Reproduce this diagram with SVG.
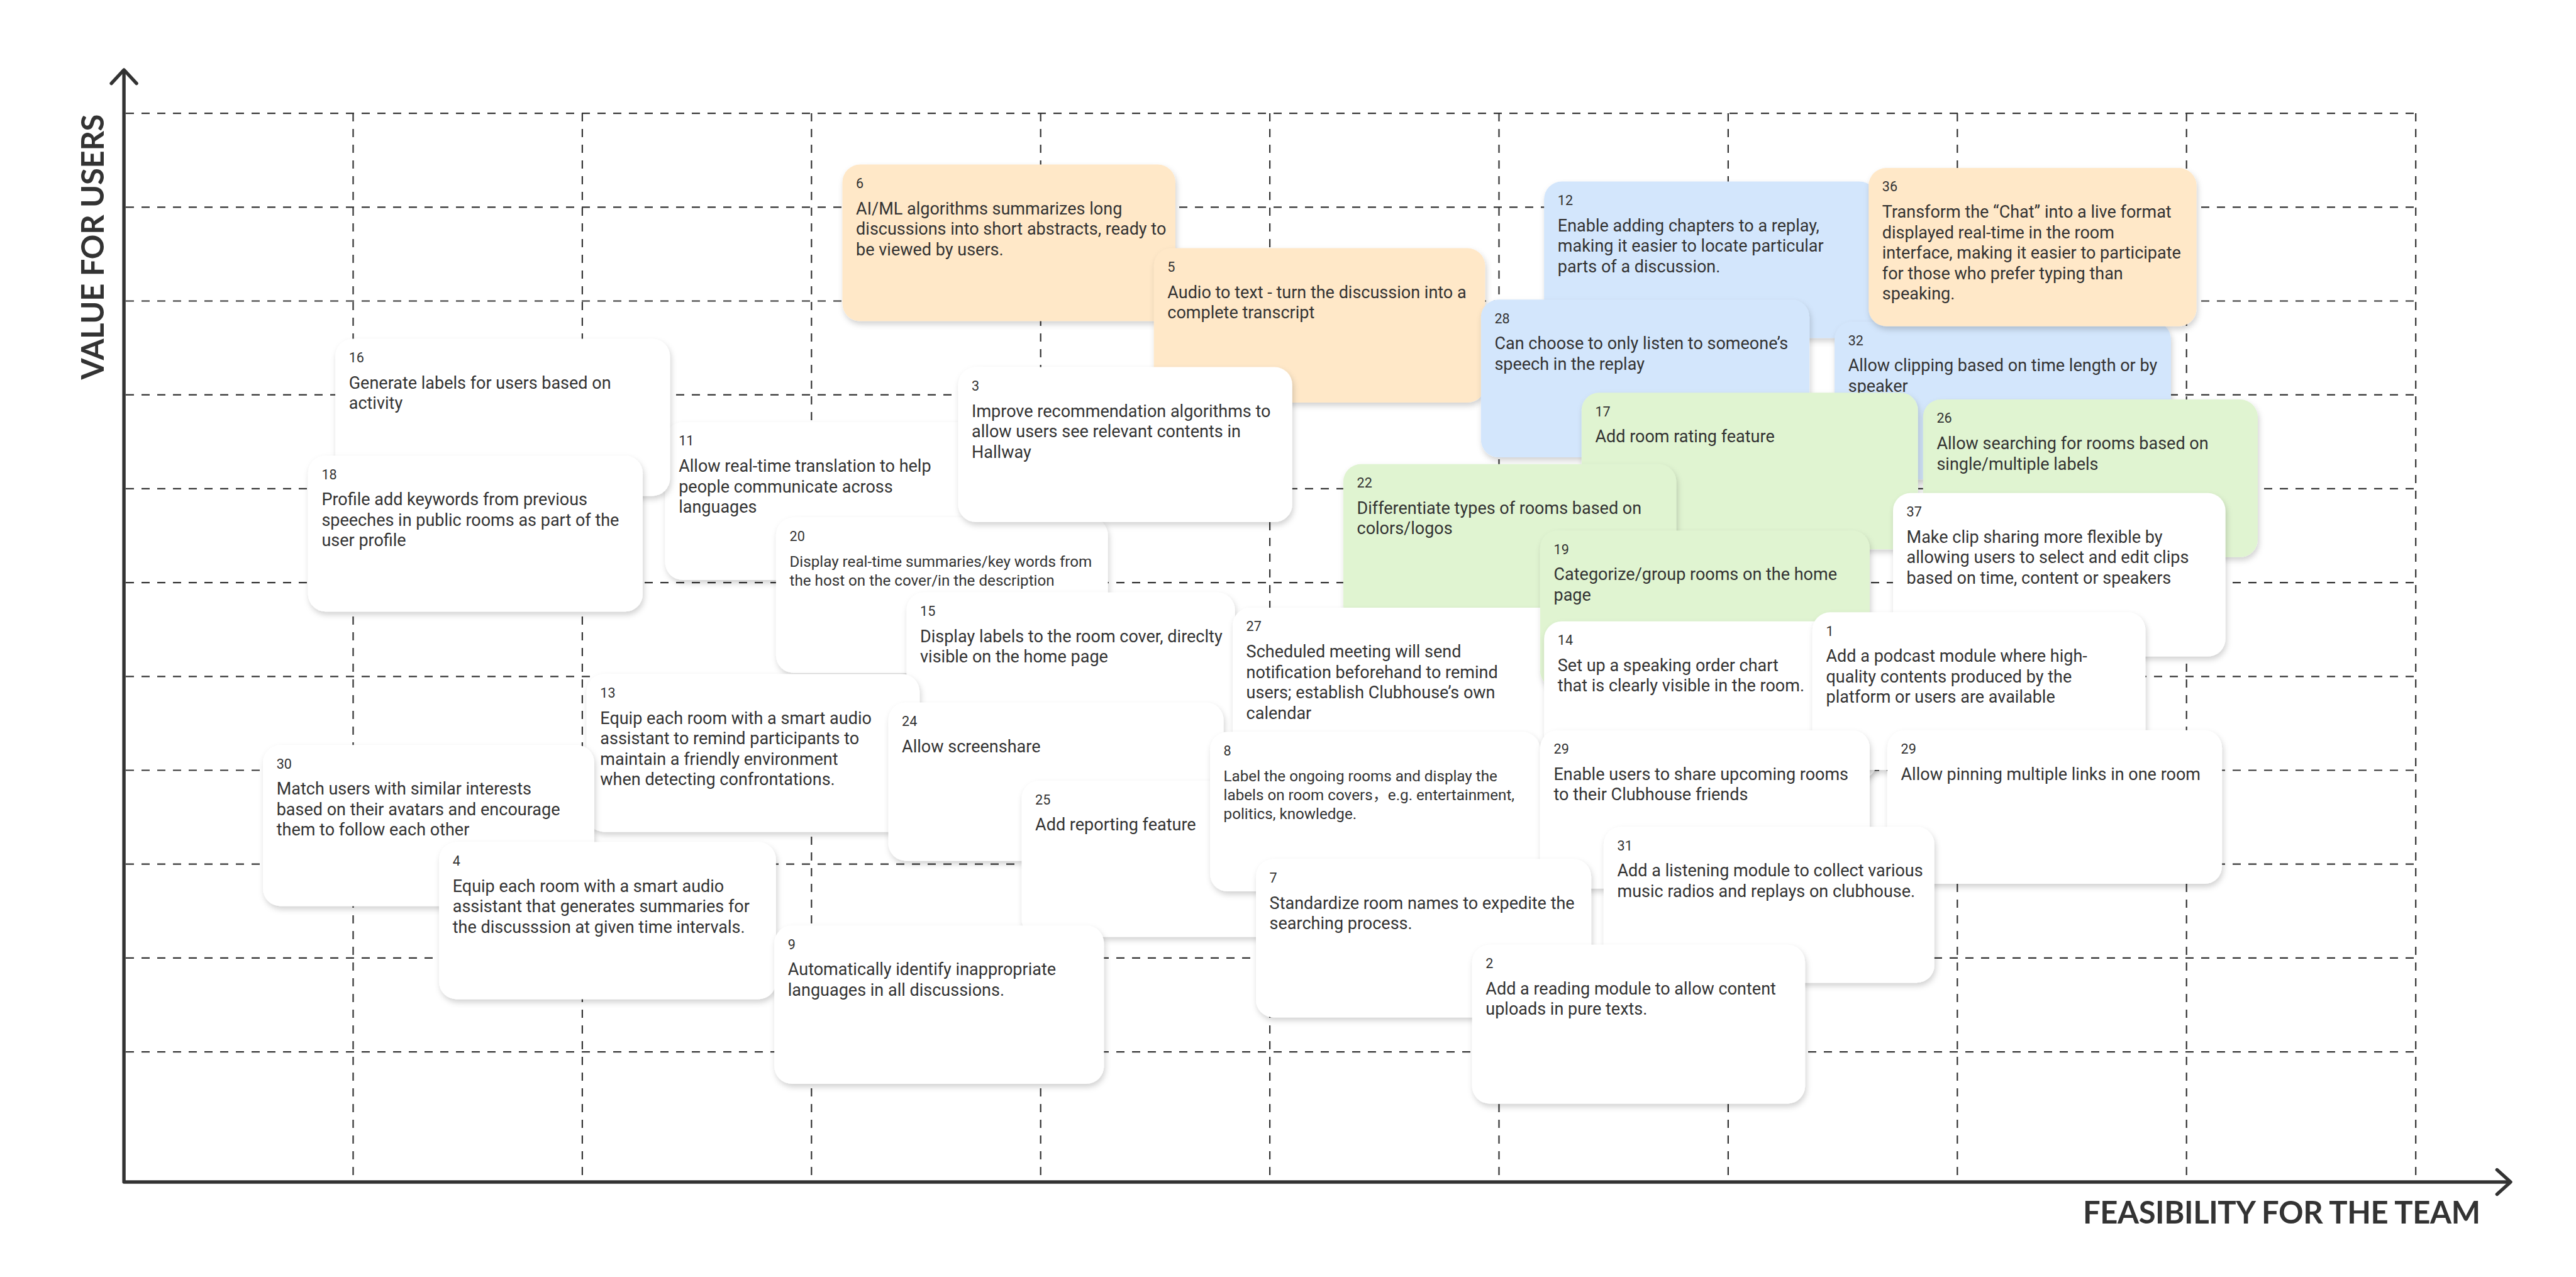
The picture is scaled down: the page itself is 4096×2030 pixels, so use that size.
<svg xmlns="http://www.w3.org/2000/svg" width="4096" height="2030" viewBox="0 0 4096 2030">
<defs>
<style>
.grid{stroke:#333;stroke-width:2.2;stroke-dasharray:13 12;fill:none}
.axis{stroke:#333;stroke-width:5.4;fill:none;stroke-linecap:round;stroke-linejoin:round}
.card rect{filter:url(#sh)}
.w{fill:#ffffff}.o{fill:#FFE8C8}.b{fill:#D3E6FC}.g{fill:#E0F4D1}
.num{font-family:Roboto,"Noto Sans CJK SC",sans-serif;font-size:21.6px;fill:#333}
.txt{font-family:Roboto,"Noto Sans CJK SC",sans-serif;font-size:27px;fill:#333}
.sm{font-size:24.2px}
.lbl{font-family:Lato,"Liberation Sans",sans-serif;font-weight:700;font-size:49px;fill:#333}
</style>
<filter id="sh" x="-10%" y="-10%" width="125%" height="135%">
<feDropShadow dx="2" dy="5" stdDeviation="5" flood-color="#000" flood-opacity="0.18"/>
</filter>
</defs>
<rect width="4096" height="2030" fill="#fff"/>
<g id="grid">
<path class="grid" d="M200,180.1H3841.2M200,329.3H3841.2M200,478.5H3841.2M200,627.7H3841.2M200,776.9H3841.2M200,926.1H3841.2M200,1075.3H3841.2M200,1224.5H3841.2M200,1373.7H3841.2M200,1522.9H3841.2M200,1672.1H3841.2"/>
<path class="grid" d="M561.5,180.1V1877M925.9,180.1V1877M1290.3,180.1V1877M1654.7,180.1V1877M2019.1,180.1V1877M2383.5,180.1V1877M2747.9,180.1V1877M3112.3,180.1V1877M3476.7,180.1V1877M3841.2,180.1V1877"/>
</g>
<g id="axes">
<path class="axis" d="M197.1,112V1879H3990"/>
<path class="axis" d="M177.1,132.6L197.1,111L217.1,132.6"/>
<path class="axis" d="M3970.4,1859.6L3992,1879L3970.4,1898.4"/>
<text class="lbl" transform="translate(165,392.5) rotate(-90)" text-anchor="middle" textLength="422">VALUE FOR USERS</text>
<text class="lbl" x="3312" y="1944.7" textLength="632">FEASIBILITY FOR THE TEAM</text>
</g>
<g id="nodes">
<g id="card-6" class="card" transform="translate(1339.5,261.6)"><rect class="o" width="529.5" height="249" rx="28"/><text class="num" x="21.6" y="37.4">6</text><text class="txt" x="21.6" y="79"><tspan x="21.6">AI/ML algorithms summarizes long</tspan><tspan x="21.6" dy="32.5">discussions into short abstracts, ready to</tspan><tspan x="21.6" dy="32.5">be viewed by users.</tspan></text></g>
<g id="card-5" class="card" transform="translate(1834.7,394.6)"><rect class="o" width="526.8" height="245.3" rx="28"/><text class="num" x="21.6" y="37.4">5</text><text class="txt" x="21.6" y="79"><tspan x="21.6">Audio to text - turn the discussion into a</tspan><tspan x="21.6" dy="32.5">complete transcript</tspan></text></g>
<g id="card-11" class="card" transform="translate(1057.6,671.1)"><rect class="w" width="529.5" height="250.8" rx="28"/><text class="num" x="21.6" y="37.4">11</text><text class="txt" x="21.6" y="79"><tspan x="21.6">Allow real-time translation to help</tspan><tspan x="21.6" dy="32.5">people communicate across</tspan><tspan x="21.6" dy="32.5">languages</tspan></text></g>
<g id="card-16" class="card" transform="translate(533.1,538.5)"><rect class="w" width="532.2" height="249.9" rx="28"/><text class="num" x="21.6" y="37.4">16</text><text class="txt" x="21.6" y="79"><tspan x="21.6">Generate labels for users based on</tspan><tspan x="21.6" dy="32.5">activity</tspan></text></g>
<g id="card-18" class="card" transform="translate(489.8,724.3)"><rect class="w" width="532.2" height="248" rx="28"/><text class="num" x="21.6" y="37.4">18</text><text class="txt" x="21.6" y="79"><tspan x="21.6">Profile add keywords from previous</tspan><tspan x="21.6" dy="32.5">speeches in public rooms as part of the</tspan><tspan x="21.6" dy="32.5">user profile</tspan></text></g>
<g id="card-20" class="card" transform="translate(1233.9,822.6)"><rect class="w" width="527.7" height="247.1" rx="28"/><text class="num" x="21.6" y="37.4">20</text><text class="txt sm" x="21.6" y="78.5"><tspan x="21.6">Display real-time summaries/key words from</tspan><tspan x="21.6" dy="30.2">the host on the cover/in the description</tspan></text></g>
<g id="card-3" class="card" transform="translate(1523.5,583.6)"><rect class="w" width="531.3" height="246.2" rx="28"/><text class="num" x="21.6" y="37.4">3</text><text class="txt" x="21.6" y="79"><tspan x="21.6">Improve recommendation algorithms to</tspan><tspan x="21.6" dy="32.5">allow users see relevant contents in</tspan><tspan x="21.6" dy="32.5">Hallway</tspan></text></g>
<g id="card-15" class="card" transform="translate(1441.4,941.7)"><rect class="w" width="522.3" height="249.9" rx="28"/><text class="num" x="21.6" y="37.4">15</text><text class="txt" x="21.6" y="79"><tspan x="21.6">Display labels to the room cover, direclty</tspan><tspan x="21.6" dy="32.5">visible on the home page</tspan></text></g>
<g id="card-13" class="card" transform="translate(932.7,1071.6)"><rect class="w" width="529.5" height="250.8" rx="28"/><text class="num" x="21.6" y="37.4">13</text><text class="txt" x="21.6" y="79"><tspan x="21.6">Equip each room with a smart audio</tspan><tspan x="21.6" dy="32.5">assistant to remind participants to</tspan><tspan x="21.6" dy="32.5">maintain a friendly environment</tspan><tspan x="21.6" dy="32.5">when detecting confrontations.</tspan></text></g>
<g id="card-30" class="card" transform="translate(418.1,1184.3)"><rect class="w" width="526.8" height="256.2" rx="28"/><text class="num" x="21.6" y="37.4">30</text><text class="txt" x="21.6" y="79"><tspan x="21.6">Match users with similar interests</tspan><tspan x="21.6" dy="32.5">based on their avatars and encourage</tspan><tspan x="21.6" dy="32.5">them to follow each other</tspan></text></g>
<g id="card-4" class="card" transform="translate(698.1,1338.6)"><rect class="w" width="535.8" height="249.9" rx="28"/><text class="num" x="21.6" y="37.4">4</text><text class="txt" x="21.6" y="79"><tspan x="21.6">Equip each room with a smart audio</tspan><tspan x="21.6" dy="32.5">assistant that generates summaries for</tspan><tspan x="21.6" dy="32.5">the discusssion at given time intervals.</tspan></text></g>
<g id="card-24" class="card" transform="translate(1412.5,1116.7)"><rect class="w" width="533.1" height="251.7" rx="28"/><text class="num" x="21.6" y="37.4">24</text><text class="txt" x="21.6" y="79"><tspan x="21.6">Allow screenshare</tspan></text></g>
<g id="card-25" class="card" transform="translate(1624.5,1241.2)"><rect class="w" width="529.5" height="248" rx="28"/><text class="num" x="21.6" y="37.4">25</text><text class="txt" x="21.6" y="79"><tspan x="21.6">Add reporting feature</tspan></text></g>
<g id="card-9" class="card" transform="translate(1231.2,1471.2)"><rect class="w" width="524.1" height="251.7" rx="28"/><text class="num" x="21.6" y="37.4">9</text><text class="txt" x="21.6" y="79"><tspan x="21.6">Automatically identify inappropriate</tspan><tspan x="21.6" dy="32.5">languages in all discussions.</tspan></text></g>
<g id="card-12" class="card" transform="translate(2455.2,288.6)"><rect class="b" width="529.5" height="249" rx="28"/><text class="num" x="21.6" y="37.4">12</text><text class="txt" x="21.6" y="79"><tspan x="21.6">Enable adding chapters to a replay,</tspan><tspan x="21.6" dy="32.5">making it easier to locate particular</tspan><tspan x="21.6" dy="32.5">parts of a discussion.</tspan></text></g>
<g id="card-32" class="card" transform="translate(2917.1,511.4)"><rect class="b" width="534.9" height="250.8" rx="28"/><text class="num" x="21.6" y="37.4">32</text><text class="txt" x="21.6" y="79"><tspan x="21.6">Allow clipping based on time length or by</tspan><tspan x="21.6" dy="32.5">speaker</tspan></text></g>
<g id="card-36" class="card" transform="translate(2971.2,267)"><rect class="o" width="521.4" height="251.7" rx="28"/><text class="num" x="21.6" y="37.4">36</text><text class="txt" x="21.6" y="79"><tspan x="21.6">Transform the “Chat” into a live format</tspan><tspan x="21.6" dy="32.5">displayed real-time in the room</tspan><tspan x="21.6" dy="32.5">interface, making it easier to participate</tspan><tspan x="21.6" dy="32.5">for those who prefer typing than</tspan><tspan x="21.6" dy="32.5">speaking.</tspan></text></g>
<g id="card-28" class="card" transform="translate(2354.8,476.3)"><rect class="b" width="522.3" height="250.8" rx="28"/><text class="num" x="21.6" y="37.4">28</text><text class="txt" x="21.6" y="79"><tspan x="21.6">Can choose to only listen to someone’s</tspan><tspan x="21.6" dy="32.5">speech in the replay</tspan></text></g>
<g id="card-26" class="card" transform="translate(3057.8,635)"><rect class="g" width="532.2" height="250.8" rx="28"/><text class="num" x="21.6" y="37.4">26</text><text class="txt" x="21.6" y="79"><tspan x="21.6">Allow searching for rooms based on</tspan><tspan x="21.6" dy="32.5">single/multiple labels</tspan></text></g>
<g id="card-17" class="card" transform="translate(2514.8,624.2)"><rect class="g" width="534.9" height="249" rx="28"/><text class="num" x="21.6" y="37.4">17</text><text class="txt" x="21.6" y="79"><tspan x="21.6">Add room rating feature</tspan></text></g>
<g id="card-22" class="card" transform="translate(2135.9,737.8)"><rect class="g" width="529.5" height="250.8" rx="28"/><text class="num" x="21.6" y="37.4">22</text><text class="txt" x="21.6" y="79"><tspan x="21.6">Differentiate types of rooms based on</tspan><tspan x="21.6" dy="32.5">colors/logos</tspan></text></g>
<g id="card-27" class="card" transform="translate(1960,966)"><rect class="w" width="528.6" height="250.8" rx="28"/><text class="num" x="21.6" y="37.4">27</text><text class="txt" x="21.6" y="79"><tspan x="21.6">Scheduled meeting will send</tspan><tspan x="21.6" dy="32.5">notification beforehand to remind</tspan><tspan x="21.6" dy="32.5">users; establish Clubhouse’s own</tspan><tspan x="21.6" dy="32.5">calendar</tspan></text></g>
<g id="card-19" class="card" transform="translate(2448.9,843.4)"><rect class="g" width="524.1" height="250.8" rx="28"/><text class="num" x="21.6" y="37.4">19</text><text class="txt" x="21.6" y="79"><tspan x="21.6">Categorize/group rooms on the home</tspan><tspan x="21.6" dy="32.5">page</tspan></text></g>
<g id="card-37" class="card" transform="translate(3010,783.8)"><rect class="w" width="528.6" height="259.8" rx="28"/><text class="num" x="21.6" y="37.4">37</text><text class="txt" x="21.6" y="79"><tspan x="21.6">Make clip sharing more flexible by</tspan><tspan x="21.6" dy="32.5">allowing users to select and edit clips</tspan><tspan x="21.6" dy="32.5">based on time, content or speakers</tspan></text></g>
<g id="card-14" class="card" transform="translate(2455.2,987.7)"><rect class="w" width="529.5" height="250.8" rx="28"/><text class="num" x="21.6" y="37.4">14</text><text class="txt" x="21.6" y="79"><tspan x="21.6">Set up a speaking order chart</tspan><tspan x="21.6" dy="32.5">that is clearly visible in the room.</tspan></text></g>
<g id="card-1" class="card" transform="translate(2881.9,973.3)"><rect class="w" width="529.5" height="250.8" rx="28"/><text class="num" x="21.6" y="37.4">1</text><text class="txt" x="21.6" y="79"><tspan x="21.6">Add a podcast module where high-</tspan><tspan x="21.6" dy="32.5">quality contents produced by the</tspan><tspan x="21.6" dy="32.5">platform or users are available</tspan></text></g>
<g id="card-8" class="card" transform="translate(1924,1163.6)"><rect class="w" width="525" height="253.5" rx="28"/><text class="num" x="21.6" y="37.4">8</text><text class="txt sm" x="21.6" y="78.5"><tspan x="21.6">Label the ongoing rooms and display the</tspan><tspan x="21.6" dy="30.2">labels on room covers，e.g. entertainment,</tspan><tspan x="21.6" dy="30.2">politics, knowledge.</tspan></text></g>
<g id="card-29a" class="card" transform="translate(2448.9,1160.9)"><rect class="w" width="524.1" height="251.7" rx="28"/><text class="num" x="21.6" y="37.4">29</text><text class="txt" x="21.6" y="79"><tspan x="21.6">Enable users to share upcoming rooms</tspan><tspan x="21.6" dy="32.5">to their Clubhouse friends</tspan></text></g>
<g id="card-29b" class="card" transform="translate(3000.9,1160.7)"><rect class="w" width="532.2" height="244.4" rx="28"/><text class="num" x="21.6" y="37.4">29</text><text class="txt" x="21.6" y="79"><tspan x="21.6">Allow pinning multiple links in one room</tspan></text></g>
<g id="card-31" class="card" transform="translate(2549.9,1314.2)"><rect class="w" width="525.9" height="248" rx="28"/><text class="num" x="21.6" y="37.4">31</text><text class="txt" x="21.6" y="79"><tspan x="21.6">Add a listening module to collect various</tspan><tspan x="21.6" dy="32.5">music radios and replays on clubhouse.</tspan></text></g>
<g id="card-7" class="card" transform="translate(1997,1365.6)"><rect class="w" width="533.1" height="251.7" rx="28"/><text class="num" x="21.6" y="37.4">7</text><text class="txt" x="21.6" y="79"><tspan x="21.6">Standardize room names to expedite the</tspan><tspan x="21.6" dy="32.5">searching process.</tspan></text></g>
<g id="card-2" class="card" transform="translate(2340.7,1501.8)"><rect class="w" width="529.5" height="252.6" rx="28"/><text class="num" x="21.6" y="37.4">2</text><text class="txt" x="21.6" y="79"><tspan x="21.6">Add a reading module to allow content</tspan><tspan x="21.6" dy="32.5">uploads in pure texts.</tspan></text></g>
</g>
<g id="connectors"/>
</svg>
